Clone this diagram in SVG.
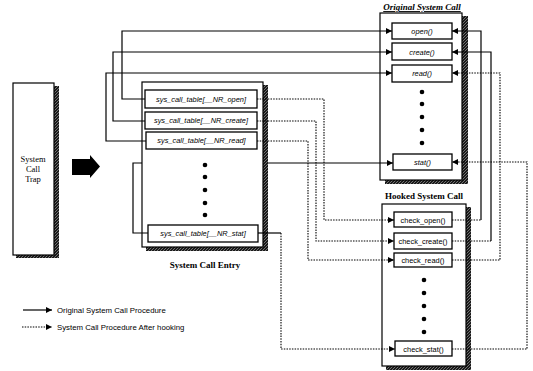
<svg xmlns="http://www.w3.org/2000/svg" width="533" height="371" viewBox="0 0 533 371">
<defs>
<pattern id="hatch" width="3" height="3" patternUnits="userSpaceOnUse">
<rect width="3" height="3" fill="#1a1a1a"/>
<path d="M0,3 L3,0" stroke="#9a9a9a" stroke-width="0.7"/>
</pattern>
<marker id="ah" viewBox="0 0 6 6" refX="6" refY="3" markerWidth="6" markerHeight="6" markerUnits="userSpaceOnUse" orient="auto">
<path d="M0,0 L6,3 L0,6 Z" fill="#000"/>
</marker>
</defs>
<style>
.box{fill:#fff;stroke:#000;stroke-width:1.2}
.sh{fill:url(#hatch)}
.ent{fill:#fff;stroke:#000;stroke-width:1.3}
.et{font-family:"Liberation Sans",Arial,sans-serif;font-style:italic;font-size:7.4px;text-anchor:middle;fill:#000}
.ht{font-family:"Liberation Sans",Arial,sans-serif;font-size:7.4px;text-anchor:middle;fill:#000}
.ttl{font-family:"Liberation Serif","Times New Roman",serif;font-weight:bold;font-size:9px;text-anchor:middle;fill:#000}
.tt{font-family:"Liberation Serif","Times New Roman",serif;font-size:8.5px;text-anchor:middle;fill:#000}
.dot{fill:#000}
.s{fill:none;stroke:#000;stroke-width:1.2}
.d{fill:none;stroke:#000;stroke-width:1.1;stroke-dasharray:1.5 1.2}
.lg{font-family:"Liberation Sans",Arial,sans-serif;font-size:7.8px;fill:#000}
</style>
<rect width="533" height="371" fill="#fff"/>

<g id="trap">
<rect class="sh" x="53" y="86" width="6" height="172"/>
<rect class="sh" x="16" y="254" width="43" height="4"/>
<rect class="box" x="13" y="83" width="41" height="172"/>
<text class="tt" x="33" y="162">System</text>
<text class="tt" x="33" y="172">Call</text>
<text class="tt" x="33" y="182">Trap</text>
</g>

<g id="bigarrow">
<path d="M72,159 L90,159 L90,155 L100,166.5 L90,178 L90,175 L72,175 Z" fill="#000"/>
</g>

<g id="entry">
<rect class="sh" x="263" y="85" width="5" height="166"/>
<rect class="sh" x="146" y="246" width="122" height="5"/>
<rect class="box" x="142" y="82" width="121" height="165"/>
<rect class="ent" x="145" y="90" width="112" height="18"/>
<text class="et" x="201" y="101.5">sys_call_table[__NR_open]</text>
<rect class="ent" x="145" y="112" width="112" height="17"/>
<text class="et" x="201" y="123">sys_call_table[__NR_create]</text>
<rect class="ent" x="146" y="132" width="111" height="17"/>
<text class="et" x="201.5" y="143">sys_call_table[__NR_read]</text>
<circle class="dot" cx="205" cy="165" r="2.3"/>
<circle class="dot" cx="205" cy="177" r="2.3"/>
<circle class="dot" cx="205" cy="190" r="2.3"/>
<circle class="dot" cx="205" cy="203" r="2.3"/>
<circle class="dot" cx="205" cy="215" r="2.3"/>
<rect class="ent" x="148" y="225" width="110" height="17"/>
<text class="et" x="203" y="236">sys_call_table[__NR_stat]</text>
<text class="ttl" x="205" y="268" font-size="9.5px">System Call Entry</text>
</g>

<g id="original">
<text class="ttl" x="422" y="10" font-style="italic" text-decoration="underline" font-size="8.5px">Original System Call</text>
<rect class="sh" x="462" y="16" width="6" height="168"/>
<rect class="sh" x="385" y="180" width="83" height="4"/>
<rect class="box" x="380" y="13" width="82" height="167"/>
<rect class="ent" x="392" y="23" width="60" height="16"/>
<text class="et" x="422" y="34">open()</text>
<rect class="ent" x="392" y="43" width="60" height="17"/>
<text class="et" x="422" y="54.5">create()</text>
<rect class="ent" x="392" y="65" width="60" height="17"/>
<text class="et" x="422" y="76">read()</text>
<circle class="dot" cx="422" cy="92" r="2.3"/>
<circle class="dot" cx="422" cy="104" r="2.3"/>
<circle class="dot" cx="422" cy="117" r="2.3"/>
<circle class="dot" cx="422" cy="130" r="2.3"/>
<circle class="dot" cx="422" cy="143" r="2.3"/>
<rect class="ent" x="393" y="154" width="59" height="16"/>
<text class="et" x="422.5" y="164.5">stat()</text>
</g>

<g id="hooked">
<text class="ttl" x="424" y="199" font-size="8.5px">Hooked System Call</text>
<rect class="sh" x="466" y="207" width="5" height="163"/>
<rect class="sh" x="386" y="366" width="85" height="4"/>
<rect class="box" x="382" y="204" width="84" height="162"/>
<rect class="ent" x="394" y="212" width="58" height="15"/>
<text class="ht" x="423" y="222.5">check_open()</text>
<rect class="ent" x="394" y="233" width="58" height="16"/>
<text class="ht" x="423" y="244">check_create()</text>
<rect class="ent" x="394" y="253" width="58" height="14"/>
<text class="ht" x="423" y="263">check_read()</text>
<circle class="dot" cx="424" cy="280" r="2.3"/>
<circle class="dot" cx="424" cy="293" r="2.3"/>
<circle class="dot" cx="424" cy="306" r="2.3"/>
<circle class="dot" cx="424" cy="319" r="2.3"/>
<circle class="dot" cx="424" cy="332" r="2.3"/>
<rect class="ent" x="395" y="341" width="57" height="15"/>
<text class="ht" x="423.5" y="351.5">check_stat()</text>
</g>

<g id="connectors">
<path class="s" d="M145,99 H122 V31 H392" marker-end="url(#ah)"/>
<path class="s" d="M145,121 H113 V52 H392" marker-end="url(#ah)"/>
<path class="s" d="M146,141 H106 V73 H392" marker-end="url(#ah)"/>
<path class="s" d="M148,233 H133 V163 H142"/>
<path class="s" d="M268,163 H393" marker-end="url(#ah)"/>
<path class="d" d="M257,99 H324 V220 H394" marker-end="url(#ah)"/>
<path class="d" d="M257,121 H316 V241 H394" marker-end="url(#ah)"/>
<path class="d" d="M257,141 H308 V260 H394" marker-end="url(#ah)"/>
<path class="s" d="M258,233 H281"/>
<path class="d" d="M281,233 V349 H395" marker-end="url(#ah)"/>
<path class="d" d="M452,220 H481"/>
<path class="s" d="M481,220 V31 H452" marker-end="url(#ah)"/>
<path class="d" d="M452,241 H491"/>
<path class="s" d="M491,241 V52 H452" marker-end="url(#ah)"/>
<path class="d" d="M452,260 H500 V73 H452" marker-end="url(#ah)"/>
<path class="d" d="M452,349 H527 V162 H452" marker-end="url(#ah)"/>
</g>

<g id="legend">
<path class="s" d="M23,310 H52" marker-end="url(#ah)"/>
<text class="lg" x="57" y="312.5">Original System Call Procedure</text>
<path class="d" d="M22,327 H52" marker-end="url(#ah)"/>
<text class="lg" x="57" y="329.5">System Call Procedure After hooking</text>
</g>
</svg>
